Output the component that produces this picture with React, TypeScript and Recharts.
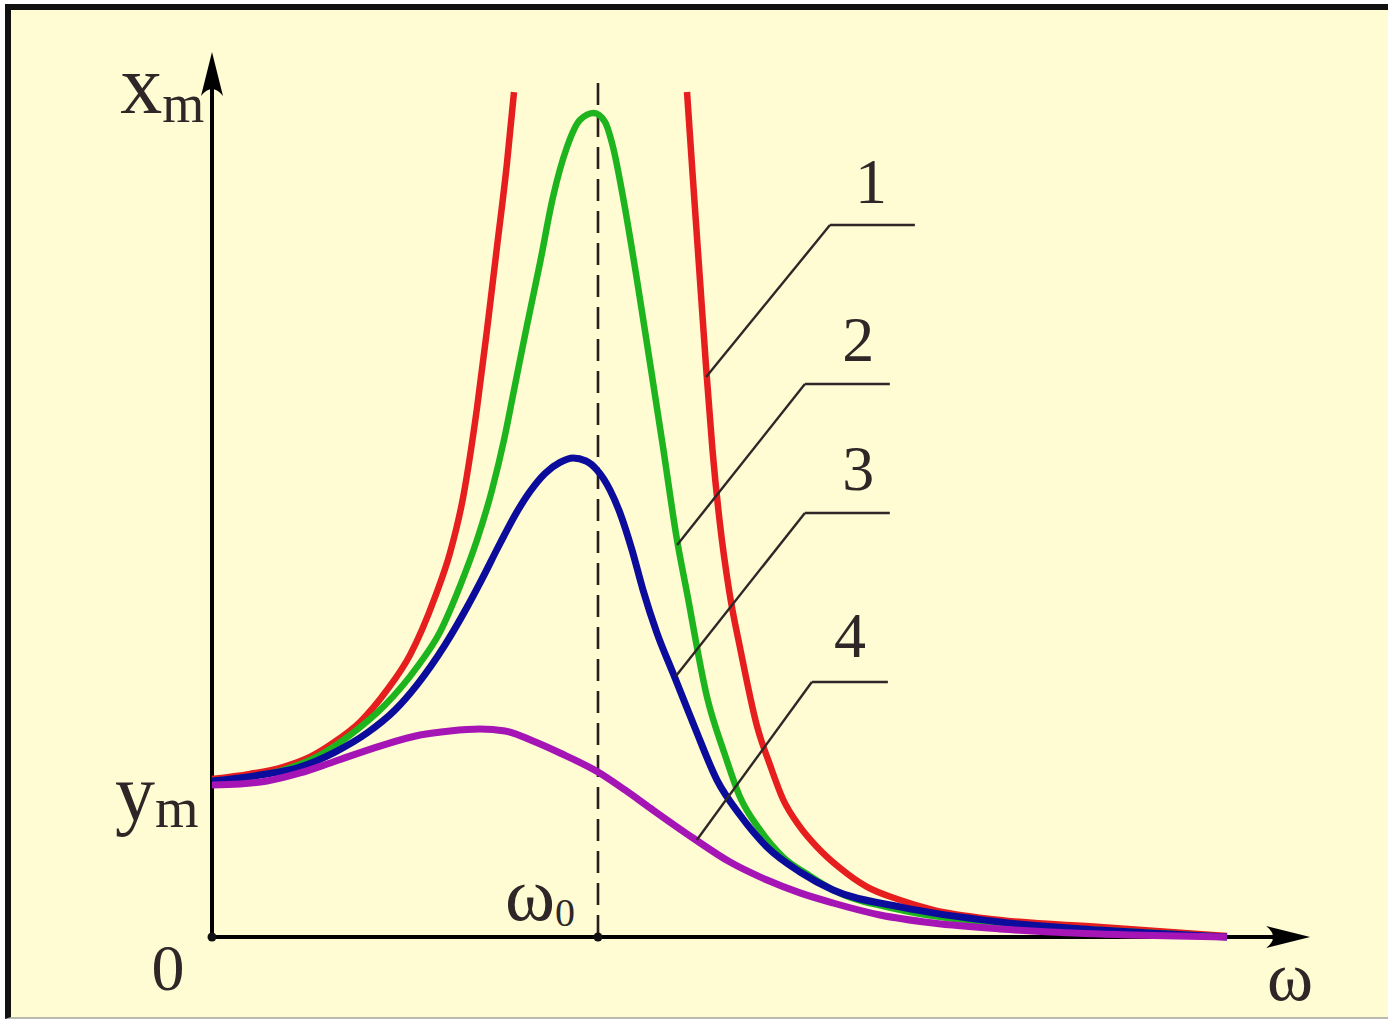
import React from "react";
import { LineChart, Line, XAxis, YAxis, ReferenceLine, ReferenceDot } from "recharts";

// w = omega / omega0, a = x_m / y_m (amplitude in units of the static displacement)
const curve1Left = [
  { w: 0.0, a: 1.004 },
  { w: 0.0984, a: 1.036 },
  { w: 0.1839, a: 1.08 },
  { w: 0.2539, a: 1.144 },
  { w: 0.3135, a: 1.233 },
  { w: 0.3834, a: 1.366 },
  { w: 0.4534, a: 1.569 },
  { w: 0.513, a: 1.792 },
  { w: 0.5777, a: 2.16 },
  { w: 0.6166, a: 2.44 },
  { w: 0.6503, a: 2.79 },
  { w: 0.6865, a: 3.36 },
  { w: 0.7124, a: 3.856 },
  { w: 0.7383, a: 4.384 },
  { w: 0.7642, a: 4.917 },
  { w: 0.7824, a: 5.368 },
];

const curve1Right = [
  { w: 1.2306, a: 5.368 },
  { w: 1.2461, a: 4.809 },
  { w: 1.2642, a: 4.174 },
  { w: 1.2811, a: 3.583 },
  { w: 1.2966, a: 3.094 },
  { w: 1.3148, a: 2.649 },
  { w: 1.3407, a: 2.186 },
  { w: 1.3692, a: 1.823 },
  { w: 1.4132, a: 1.328 },
  { w: 1.4456, a: 1.093 },
  { w: 1.4793, a: 0.875 },
  { w: 1.5233, a: 0.7 },
  { w: 1.5674, a: 0.572 },
  { w: 1.6269, a: 0.438 },
  { w: 1.6969, a: 0.318 },
  { w: 1.7824, a: 0.235 },
  { w: 1.8679, a: 0.172 },
  { w: 2.0415, a: 0.108 },
  { w: 2.3005, a: 0.064 },
  { w: 2.6295, a: 0.006 },
];

const curve2 = [
  { w: 0.0, a: 0.991 },
  { w: 0.0984, a: 1.017 },
  { w: 0.1839, a: 1.061 },
  { w: 0.2798, a: 1.156 },
  { w: 0.3575, a: 1.283 },
  { w: 0.4482, a: 1.474 },
  { w: 0.5311, a: 1.715 },
  { w: 0.5907, a: 1.938 },
  { w: 0.6425, a: 2.23 },
  { w: 0.6865, a: 2.522 },
  { w: 0.7254, a: 2.84 },
  { w: 0.7565, a: 3.158 },
  { w: 0.7824, a: 3.475 },
  { w: 0.8135, a: 3.856 },
  { w: 0.8497, a: 4.282 },
  { w: 0.8834, a: 4.701 },
  { w: 0.9197, a: 5.019 },
  { w: 0.9534, a: 5.191 },
  { w: 0.9896, a: 5.235 },
  { w: 1.0181, a: 5.178 },
  { w: 1.0389, a: 5.019 },
  { w: 1.0648, a: 4.701 },
  { w: 1.101, a: 4.174 },
  { w: 1.1347, a: 3.647 },
  { w: 1.1684, a: 3.113 },
  { w: 1.2047, a: 2.522 },
  { w: 1.2306, a: 2.186 },
  { w: 1.2824, a: 1.525 },
  { w: 1.329, a: 1.156 },
  { w: 1.3679, a: 0.889 },
  { w: 1.4197, a: 0.68 },
  { w: 1.4793, a: 0.508 },
  { w: 1.5492, a: 0.388 },
  { w: 1.6088, a: 0.299 },
  { w: 1.7824, a: 0.172 },
  { w: 2.0415, a: 0.083 },
  { w: 2.3005, a: 0.044 },
  { w: 2.6295, a: 0.0 },
];

const curve3 = [
  { w: 0.0, a: 0.991 },
  { w: 0.1244, a: 1.029 },
  { w: 0.228, a: 1.08 },
  { w: 0.3187, a: 1.175 },
  { w: 0.4016, a: 1.296 },
  { w: 0.4741, a: 1.442 },
  { w: 0.5311, a: 1.602 },
  { w: 0.6036, a: 1.856 },
  { w: 0.6606, a: 2.095 },
  { w: 0.6943, a: 2.25 },
  { w: 0.7461, a: 2.5 },
  { w: 0.785, a: 2.68 },
  { w: 0.8238, a: 2.83 },
  { w: 0.8627, a: 2.945 },
  { w: 0.9016, a: 3.015 },
  { w: 0.9352, a: 3.043 },
  { w: 0.9689, a: 3.024 },
  { w: 0.9974, a: 2.967 },
  { w: 1.0311, a: 2.84 },
  { w: 1.057, a: 2.694 },
  { w: 1.0881, a: 2.459 },
  { w: 1.1166, a: 2.205 },
  { w: 1.1528, a: 1.931 },
  { w: 1.1943, a: 1.677 },
  { w: 1.2513, a: 1.328 },
  { w: 1.3083, a: 0.997 },
  { w: 1.3679, a: 0.775 },
  { w: 1.4378, a: 0.572 },
  { w: 1.5233, a: 0.413 },
  { w: 1.6088, a: 0.299 },
  { w: 1.7824, a: 0.191 },
  { w: 2.0415, a: 0.095 },
  { w: 2.3005, a: 0.044 },
  { w: 2.6295, a: 0.0 },
];

const curve4 = [
  { w: 0.0, a: 0.966 },
  { w: 0.0725, a: 0.972 },
  { w: 0.1425, a: 0.991 },
  { w: 0.228, a: 1.042 },
  { w: 0.3135, a: 1.112 },
  { w: 0.4352, a: 1.213 },
  { w: 0.5389, a: 1.283 },
  { w: 0.6166, a: 1.309 },
  { w: 0.6943, a: 1.321 },
  { w: 0.7591, a: 1.309 },
  { w: 0.8316, a: 1.245 },
  { w: 0.9016, a: 1.169 },
  { w: 1.0, a: 1.048 },
  { w: 1.0699, a: 0.934 },
  { w: 1.1347, a: 0.82 },
  { w: 1.2461, a: 0.629 },
  { w: 1.342, a: 0.476 },
  { w: 1.4378, a: 0.362 },
  { w: 1.5233, a: 0.28 },
  { w: 1.6088, a: 0.216 },
  { w: 1.7306, a: 0.14 },
  { w: 1.8679, a: 0.089 },
  { w: 2.0415, a: 0.051 },
  { w: 2.171, a: 0.032 },
  { w: 2.3782, a: 0.013 },
  { w: 2.6295, a: 0.0 },
];

// leader lines: foot on the curve, knee, end of the shelf, label anchor
const leaders = [
  { id: "1", foot: [1.28, 3.558], knee: [1.601, 4.523], end: 1.821, text: [1.707, 4.663] },
  { id: "2", foot: [1.205, 2.49], knee: [1.536, 3.513], end: 1.756, text: [1.674, 3.659] },
  { id: "3", foot: [1.202, 1.658], knee: [1.536, 2.694], end: 1.756, text: [1.674, 2.84] },
  { id: "4", foot: [1.256, 0.616], knee: [1.554, 1.62], end: 1.751, text: [1.653, 1.779] },
];

const omega0 = 1;
const xMax = 2.9;
const yMax = 5.7;
const xArrowTip = 2.845;
const yArrowTip = 5.623;
const dashTop = 5.445;

const ink = "#2f2727";
const serif = "'Liberation Serif', 'DejaVu Serif', serif";

function ArrowRight({ cx, cy }: any) {
  return (
    <path
      d={`M${cx},${cy} L${cx - 44},${cy - 11} Q${cx - 30},${cy} ${cx - 44},${cy + 11} Z`}
      fill="#000"
    />
  );
}

function ArrowUp({ cx, cy }: any) {
  return (
    <path
      d={`M${cx},${cy} L${cx - 11},${cy + 44} Q${cx},${cy + 30} ${cx + 11},${cy + 44} Z`}
      fill="#000"
    />
  );
}

function TickDot({ cx, cy }: any) {
  return <circle cx={cx} cy={cy} r={4.5} fill="#111" />;
}

function textShape(main: string, sub: string, size: number, subSize: number, dy: number, anchor = "start") {
  return ({ cx, cy }: any) => (
    <text x={cx} y={cy} fill={ink} fontFamily={serif} fontSize={size} textAnchor={anchor}>
      {main}
      {sub ? (
        <tspan fontSize={subSize} dy={dy}>
          {sub}
        </tspan>
      ) : null}
    </text>
  );
}

export default function App() {
  return (
    <div style={{ position: "fixed", left: 0, top: 0, width: 1388, height: 1021, background: "#fff" }}>
      <div
        style={{
          position: "absolute",
          left: 5,
          top: 4,
          width: 1383,
          height: 1015,
          boxSizing: "border-box",
          background: "#FFFBD3",
          borderTop: "6px solid #111",
          borderLeft: "6px solid #111",
          borderBottom: "2px solid #b9b9b0",
        }}
      />
      <div style={{ position: "absolute", left: 0, top: 0 }}>
        <LineChart
          width={1388}
          height={1021}
          margin={{ top: 39.8, right: 56.6, bottom: 84, left: 212 }}
        >
          <XAxis type="number" dataKey="w" domain={[0, xMax]} hide allowDuplicatedCategory={false} />
          <YAxis type="number" dataKey="a" domain={[0, yMax]} hide />

          <ReferenceLine
            segment={[{ x: omega0, y: 0 }, { x: omega0, y: dashTop }]}
            stroke="#2a1d1d"
            strokeWidth={2.6}
            strokeDasharray="22 10"
          />
          <ReferenceLine segment={[{ x: 0, y: 0 }, { x: xArrowTip - 0.05, y: 0 }]} stroke="#000" strokeWidth={4} />
          <ReferenceLine segment={[{ x: 0, y: 0 }, { x: 0, y: yArrowTip - 0.15 }]} stroke="#000" strokeWidth={4} />

          <Line data={curve1Left} dataKey="a" type="monotone" stroke="#E61E1E" strokeWidth={6.5} dot={false} isAnimationActive={false} />
          <Line data={curve1Right} dataKey="a" type="monotone" stroke="#E61E1E" strokeWidth={6.5} dot={false} isAnimationActive={false} />
          <Line data={curve2} dataKey="a" type="monotone" stroke="#1DB41D" strokeWidth={6.5} dot={false} isAnimationActive={false} />
          <Line data={curve3} dataKey="a" type="monotone" stroke="#0B0B9C" strokeWidth={7} dot={false} isAnimationActive={false} />
          <Line data={curve4} dataKey="a" type="monotone" stroke="#A514B4" strokeWidth={7} dot={false} isAnimationActive={false} />

          {leaders.map((l) => (
            <ReferenceLine
              key={`d${l.id}`}
              segment={[{ x: l.foot[0], y: l.foot[1] }, { x: l.knee[0], y: l.knee[1] }]}
              stroke={ink}
              strokeWidth={2.4}
            />
          ))}
          {leaders.map((l) => (
            <ReferenceLine
              key={`h${l.id}`}
              segment={[{ x: l.knee[0], y: l.knee[1] }, { x: l.end, y: l.knee[1] }]}
              stroke={ink}
              strokeWidth={2.6}
            />
          ))}
          {leaders.map((l) => (
            <ReferenceDot
              key={`t${l.id}`}
              x={l.text[0]}
              y={l.text[1]}
              ifOverflow="visible"
              shape={textShape(l.id, "", 64, 0, 0, "middle")}
            />
          ))}

          <ReferenceDot x={xArrowTip} y={0} ifOverflow="visible" shape={ArrowRight} />
          <ReferenceDot x={0} y={yArrowTip} ifOverflow="visible" shape={ArrowUp} />
          <ReferenceDot x={0} y={0} ifOverflow="visible" shape={TickDot} />
          <ReferenceDot x={omega0} y={0} ifOverflow="visible" shape={TickDot} />

          <ReferenceDot x={-0.238} y={5.235} ifOverflow="visible" shape={textShape("x", "m", 84, 54, 9)} />
          <ReferenceDot x={-0.251} y={0.744} ifOverflow="visible" shape={textShape("y", "m", 80, 56, 7)} />
          <ReferenceDot x={-0.114} y={-0.337} ifOverflow="visible" shape={textShape("0", "", 66, 0, 0, "middle")} />
          <ReferenceDot x={0.759} y={0.108} ifOverflow="visible" shape={textShape("ω", "0", 76, 40, 6)} />
          <ReferenceDot x={2.733} y={-0.4} ifOverflow="visible" shape={textShape("ω", "", 70, 0, 0)} />
        </LineChart>
      </div>
    </div>
  );
}
